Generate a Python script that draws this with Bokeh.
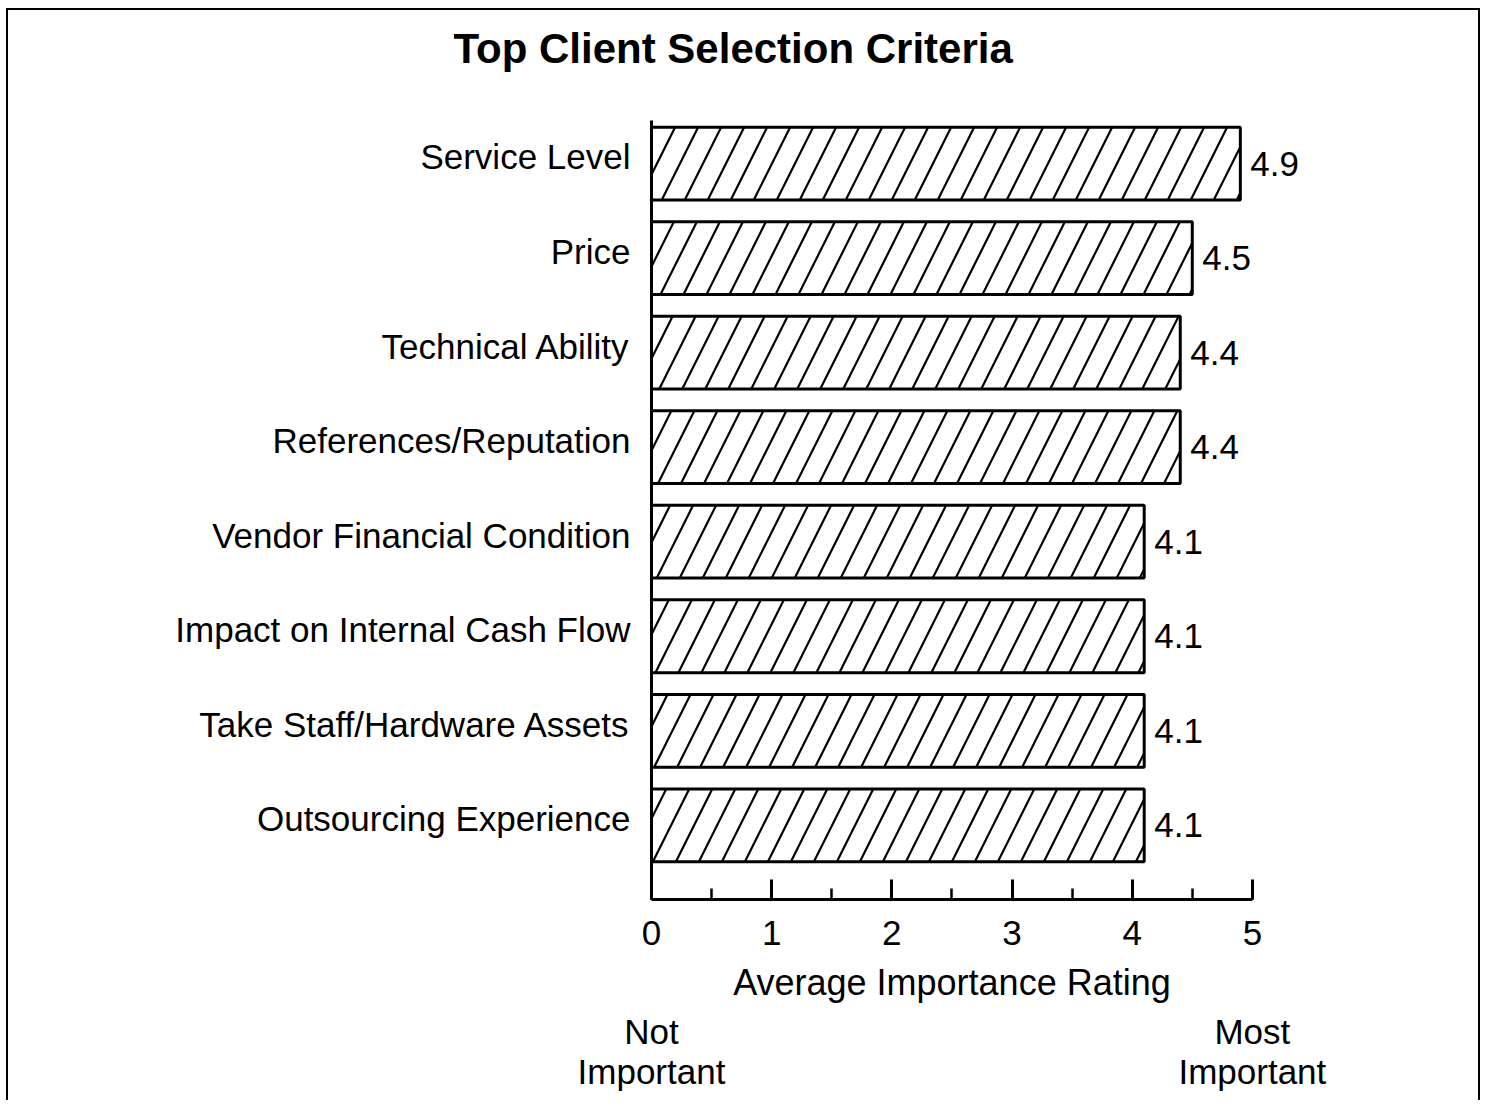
from bokeh.plotting import figure
from bokeh.models import (Range1d, FixedTicker, SingleIntervalTicker, LinearAxis,
                          ColumnDataSource, Title)
from bokeh.core.properties import value
from bokeh.embed import file_html
from bokeh.resources import INLINE

# ---- data (top to bottom as in the chart) ----
categories = ["Service Level", "Price", "Technical Ability", "References/Reputation",
              "Vendor Financial Condition", "Impact on Internal Cash Flow",
              "Take Staff/Hardware Assets", "Outsourcing Experience"]
ratings = [4.9, 4.5, 4.4, 4.4, 4.1, 4.1, 4.1, 4.1]
value_labels = ["4.9", "4.5", "4.4", "4.4", "4.1", "4.1", "4.1", "4.1"]
title_text = "Top Client Selection Criteria"
x_label = "Average Importance Rating"
x_label_at = [2.5]
scale_end_ticks = [0, 5]
scale_end_labels = ["Not\nImportant", "Most\nImportant"]

FONT = "Liberation Sans"
n = len(categories)
ypos = [n - 1 - i for i in range(n)]  # top category highest

src = ColumnDataSource(dict(cat=categories, r=ratings, y=ypos, lab=value_labels))

y0, y1 = -0.785, 7.456
shift = 0.07

p = figure(width=1474, height=1092, output_backend="svg", toolbar_location=None,
           x_range=Range1d(0, 5.8), y_range=Range1d(y0, y1),
           min_border_left=643, min_border_right=134,
           min_border_top=110, min_border_bottom=203,
           x_axis_location=None, y_axis_location=None)
p.outline_line_color = None
p.xgrid.visible = False
p.ygrid.visible = False
p.background_fill_color = "white"
p.border_fill_color = "white"
p.styles = {"border-left": "2px solid black", "border-top": "2px solid black",
            "border-right": "2px solid black", "margin-left": "6px",
            "margin-top": "8px"}

p.extra_y_ranges = {"lab": Range1d(y0 - shift, y1 - shift)}

# bars
p.hbar(y="y", right="r", left=0, height=0.77, source=src,
       fill_color="white", line_color="black", line_width=3,
       hatch_pattern="/", hatch_scale=46, hatch_weight=2.2, hatch_color="black")

# value labels
p.text(x="r", y="y", text="lab", source=src, x_offset=10,
       text_align="left", text_baseline="middle",
       text_font=value(FONT), text_font_size="35px", text_color="black")

# x axis (ticks and numbers)
xa = LinearAxis(ticker=SingleIntervalTicker(interval=1, num_minor_ticks=2),
                bounds=(0, 5))
xa.axis_line_width = 3
xa.axis_line_color = "black"
xa.major_tick_in = 20
xa.major_tick_out = 0
xa.major_tick_line_width = 3
xa.minor_tick_in = 11
xa.minor_tick_out = 0
xa.minor_tick_line_width = 2.5
xa.major_label_standoff = 21
xa.major_label_text_font = FONT
xa.major_label_text_font_size = "35px"
xa.major_label_text_color = "black"
p.add_layout(xa, "below")

# axis title, centred under the 0-5 scale
xl = LinearAxis(ticker=FixedTicker(ticks=x_label_at, minor_ticks=[]))
xl.major_label_overrides = {t: x_label for t in x_label_at}
xl.axis_line_color = None
xl.major_tick_line_color = None
xl.minor_tick_line_color = None
xl.major_label_standoff = 8
xl.major_label_text_font = FONT
xl.major_label_text_font_size = "36px"
xl.major_label_text_color = "black"
p.add_layout(xl, "below")

# scale-end descriptions
xe = LinearAxis(ticker=FixedTicker(ticks=scale_end_ticks, minor_ticks=[]))
xe.major_label_overrides = {t: s for t, s in zip(scale_end_ticks, scale_end_labels)}
xe.axis_line_color = None
xe.major_tick_line_color = None
xe.minor_tick_line_color = None
xe.major_label_standoff = 0
xe.major_label_text_font = FONT
xe.major_label_text_font_size = "35px"
xe.major_label_text_line_height = 1.05
xe.major_label_text_color = "black"
p.add_layout(xe, "below")

# y axis (category labels)
ya = LinearAxis(y_range_name="lab", ticker=FixedTicker(ticks=ypos, minor_ticks=[]))
ya.major_label_overrides = {yy: c for yy, c in zip(ypos, categories)}
ya.axis_line_width = 3
ya.axis_line_color = "black"
ya.major_tick_line_color = None
ya.minor_tick_line_color = None
ya.major_label_standoff = 15
ya.major_label_text_font = FONT
ya.major_label_text_font_size = "35px"
ya.major_label_text_color = "black"
p.add_layout(ya, "left")

# spacer between title and plot area
p.add_layout(Title(text=" ", text_font_size="20px", standoff=20), "above")

# title
p.title.text = title_text
p.title.align = "left"
p.title.offset = -198
p.title.text_font = FONT
p.title.text_font_size = "42px"
p.title.text_font_style = "bold"
p.title.text_color = "black"
p.title.standoff = 10

open("out.html", "w").write(file_html(p, INLINE))
